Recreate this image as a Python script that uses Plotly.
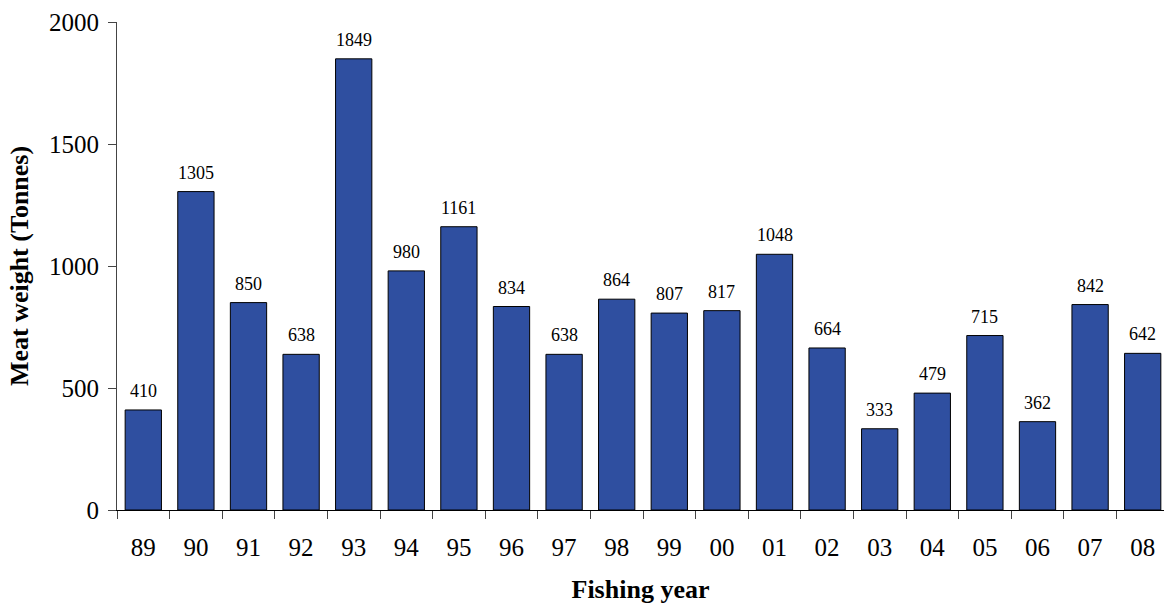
import plotly.graph_objects as go

# Annual meat weight landed, by fishing year
years = ["89", "90", "91", "92", "93", "94", "95", "96", "97", "98",
         "99", "00", "01", "02", "03", "04", "05", "06", "07", "08"]
meat_weight = [410, 1305, 850, 638, 1849, 980, 1161, 834, 638, 864,
               807, 817, 1048, 664, 333, 479, 715, 362, 842, 642]
y_ticks = [0, 500, 1000, 1500, 2000]

FONT = "Liberation Serif, Times New Roman, serif"
BAR_COLOR = "#2F4FA0"

fig = go.Figure()
fig.add_trace(go.Bar(
    x=years,
    y=meat_weight,
    marker=dict(color=BAR_COLOR, line=dict(color="black", width=1)),
    width=0.69,
    hoverinfo="x+y",
))

# value labels above each bar (category axis positions by index)
for i, v in enumerate(meat_weight):
    fig.add_annotation(
        x=i, y=v, xref="x", yref="y", text=str(v), showarrow=False,
        yanchor="bottom", yshift=7,
        font=dict(family=FONT, size=18, color="black"),
    )

fig.update_layout(
    width=1164, height=604,
    margin=dict(l=117, r=0, t=22, b=94),
    paper_bgcolor="white", plot_bgcolor="white",
    showlegend=False,
    bargap=0.31,
    font=dict(family=FONT, color="black"),
)
fig.update_xaxes(
    type="category",
    range=[-0.5, 19.405],
    tickson="boundaries",
    ticks="outside", ticklen=8, tickwidth=1, tickcolor="#444",
    showline=True, linecolor="black", linewidth=1,
    showgrid=False, zeroline=False,
    tickfont=dict(family=FONT, size=25, color="black"),
    ticklabelstandoff=15,
    title=dict(text="<b>Fishing year</b>", standoff=25,
               font=dict(family=FONT, size=26, color="black")),
)
fig.update_yaxes(
    range=[0, 2000],
    tickvals=y_ticks,
    ticks="outside", ticklen=8, tickwidth=1, tickcolor="#444",
    showline=True, linecolor="#444", linewidth=1,
    showgrid=False, zeroline=False,
    tickfont=dict(family=FONT, size=25, color="black"),
    ticklabelstandoff=4,
    title=dict(text="<b>Meat weight (Tonnes)</b>", standoff=12,
               font=dict(family=FONT, size=26, color="black")),
)

fig.write_html("out.html")
